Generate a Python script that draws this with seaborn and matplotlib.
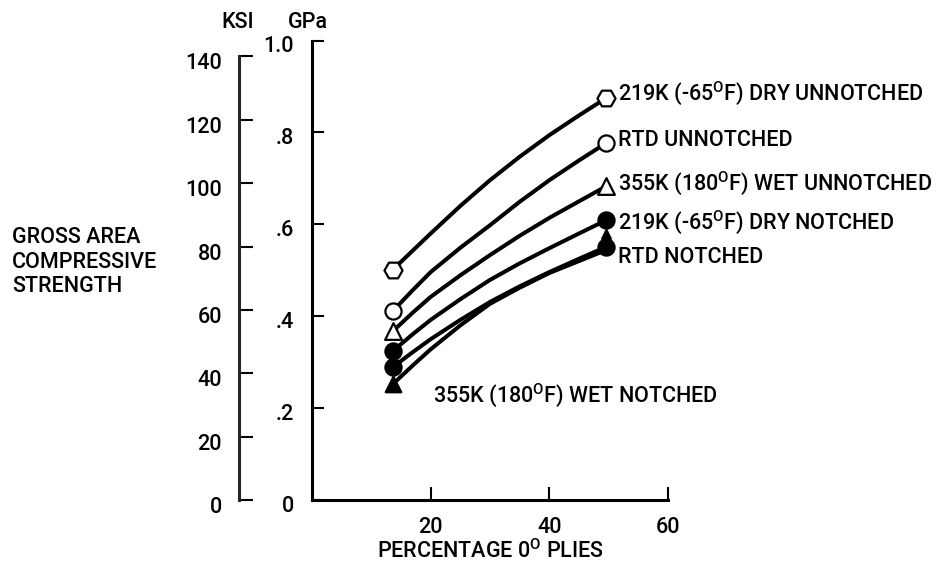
import matplotlib
matplotlib.use("Agg")
import matplotlib.pyplot as plt
import matplotlib.transforms as mtransforms
import seaborn as sns

# ---------------- data (GPa vs percentage of 0-degree plies) ----------------
x_curve = [13.6, 17, 20, 25, 30, 35, 40, 45, 49.6]
dry_unnotched_curve = [0.501, 0.543, 0.580, 0.640, 0.696, 0.747, 0.794, 0.837, 0.875]
rtd_unnotched_curve = [0.411, 0.457, 0.496, 0.549, 0.598, 0.649, 0.696, 0.739, 0.777]
wet_unnotched_curve = [0.367, 0.408, 0.442, 0.489, 0.533, 0.575, 0.614, 0.650, 0.683]
dry_notched_curve = [0.324, 0.361, 0.392, 0.437, 0.479, 0.515, 0.548, 0.580, 0.609]
rtd_notched_curve = [0.289, 0.322, 0.350, 0.392, 0.431, 0.465, 0.496, 0.525, 0.551]
wet_notched_curve = [0.252, 0.293, 0.328, 0.380, 0.427, 0.462, 0.494, 0.520, 0.544]

x_points = [13.6, 49.6]
dry_unnotched_pts = [0.501, 0.875]
rtd_unnotched_pts = [0.411, 0.777]
wet_unnotched_pts = [0.367, 0.683]
dry_notched_pts = [0.324, 0.609]
rtd_notched_pts = [0.289, 0.551]
wet_notched_pts = [0.252, 0.579]

series_labels = [
    "219K (-65$^{\\mathrm{O}}$F) DRY UNNOTCHED",
    "RTD UNNOTCHED",
    "355K (180$^{\\mathrm{O}}$F) WET UNNOTCHED",
    "219K (-65$^{\\mathrm{O}}$F) DRY NOTCHED",
    "RTD NOTCHED",
    "355K (180$^{\\mathrm{O}}$F) WET NOTCHED",
]

gpa_ticks = [0, 0.2, 0.4, 0.6, 0.8, 1.0]
gpa_ticklabels = ["0", ".2", ".4", ".6", ".8", "1.0"]
ksi_ticks = [0, 20, 40, 60, 80, 100, 120, 140]
ksi_ticklabels = ["0", "20", "40", "60", "80", "100", "120", "140"]
x_ticks = [20, 40, 60]
x_ticklabels = ["20", "40", "60"]
GPA_PER_KSI = 0.006895

# ---------------- styling ----------------
sns.set_style("ticks")
FONT = ["Roboto", "DejaVu Sans"]
plt.rcParams["font.family"] = FONT
plt.rcParams["font.weight"] = "medium"
plt.rcParams["axes.labelweight"] = "medium"
plt.rcParams["mathtext.fontset"] = "custom"
plt.rcParams["mathtext.rm"] = "Roboto"
plt.rcParams["mathtext.it"] = "Roboto"
FS = 15.5

W, H = 936, 573
fig = plt.figure(figsize=(W / 100, H / 100), dpi=100)
fig.patch.set_facecolor("white")

ax_bottom = (H - 500) / H
ax_height = 459.5 / H
ax = fig.add_axes([312 / W, ax_bottom, 356 / W, ax_height])
ax.set_xlim(0, 60)
ax.set_ylim(0, 1.0)
for s in ["top", "right"]:
    ax.spines[s].set_visible(False)
for s in ["left", "bottom"]:
    ax.spines[s].set_linewidth(2.2)
    ax.spines[s].set_color("black")
ax.set_xticks(x_ticks)
ax.set_xticklabels(x_ticklabels)
ax.set_yticks(gpa_ticks)
ax.set_yticklabels(gpa_ticklabels)
ax.tick_params(axis="x", direction="in", length=9.5, width=1.5, pad=12, labelsize=FS, colors="black")
ax.tick_params(axis="y", direction="in", length=8.5, width=1.5, pad=13, labelsize=FS, colors="black")
off = mtransforms.ScaledTranslation(0, -0.04, fig.dpi_scale_trans)
for lbl in ax.get_yticklabels():
    lbl.set_transform(lbl.get_transform() + off)
ax.set_xlabel("PERCENTAGE 0$^{\\mathrm{O}}$ PLIES", fontsize=FS, labelpad=1,
              color="black", fontweight="medium")
ax.set_ylabel("")

# KSI companion axis
axk = fig.add_axes([239.3 / W, ax_bottom, 0.01, ax_height])
axk.patch.set_visible(False)
axk.set_ylim(0, 1.0 / GPA_PER_KSI)
for s in ["top", "right", "bottom"]:
    axk.spines[s].set_visible(False)
axk.spines["left"].set_linewidth(2.2)
axk.spines["left"].set_bounds(0, 140)
axk.set_xticks([])
axk.set_yticks(ksi_ticks)
axk.set_yticklabels(ksi_ticklabels)
axk.tick_params(axis="y", direction="in", length=10, width=1.5, pad=12.5, labelsize=FS, colors="black")
off2 = mtransforms.ScaledTranslation(0, -0.05, fig.dpi_scale_trans)
for lbl in axk.get_yticklabels():
    lbl.set_transform(lbl.get_transform() + off2)

# ---------------- curves & markers ----------------
curves = [dry_unnotched_curve, rtd_unnotched_curve, wet_unnotched_curve,
          dry_notched_curve, rtd_notched_curve, wet_notched_curve]
for ys in curves:
    sns.lineplot(x=x_curve, y=ys, ax=ax, color="black", linewidth=2.9,
                 sort=False, estimator=None, zorder=2)

marker_specs = [
    (dry_unnotched_pts, "H", "white", [170, 170]),
    (rtd_unnotched_pts, "o", "white", [135, 135]),
    (wet_unnotched_pts, "^", "white", [145, 145]),
    (dry_notched_pts, "o", "black", [135, 135]),
    (rtd_notched_pts, "o", "black", [135, 135]),
    (wet_notched_pts, "^", "black", [125, 40]),
]
for ys, mk, fc, sizes in marker_specs:
    for xv, yv, sz in zip(x_points, ys, sizes):
        sns.scatterplot(x=[xv], y=[yv], ax=ax, marker=mk, s=sz, color=fc,
                        edgecolor="black", linewidth=1.6, zorder=4, clip_on=False)

# ---------------- labels ----------------
label_pos = [(51.6, 0.886), (51.6, 0.783), (51.6, 0.690),
             (51.6, 0.605), (51.6, 0.527), (20.4, 0.229)]
for (lx, ly), txt in zip(label_pos, series_labels):
    ax.text(lx, ly, txt, ha="left", va="center", fontsize=FS, color="black")

fig.text(12 / W, 1 - 262 / H, "GROSS AREA\nCOMPRESSIVE\nSTRENGTH",
         ha="left", va="center", fontsize=FS, linespacing=1.2, color="black")
fig.text(238 / W, 1 - 23 / H, "KSI", ha="center", va="center", fontsize=FS, color="black")
fig.text(308 / W, 1 - 22 / H, "GPa", ha="center", va="center", fontsize=FS, color="black")

fig.savefig("out.png", dpi=100, facecolor="white")
